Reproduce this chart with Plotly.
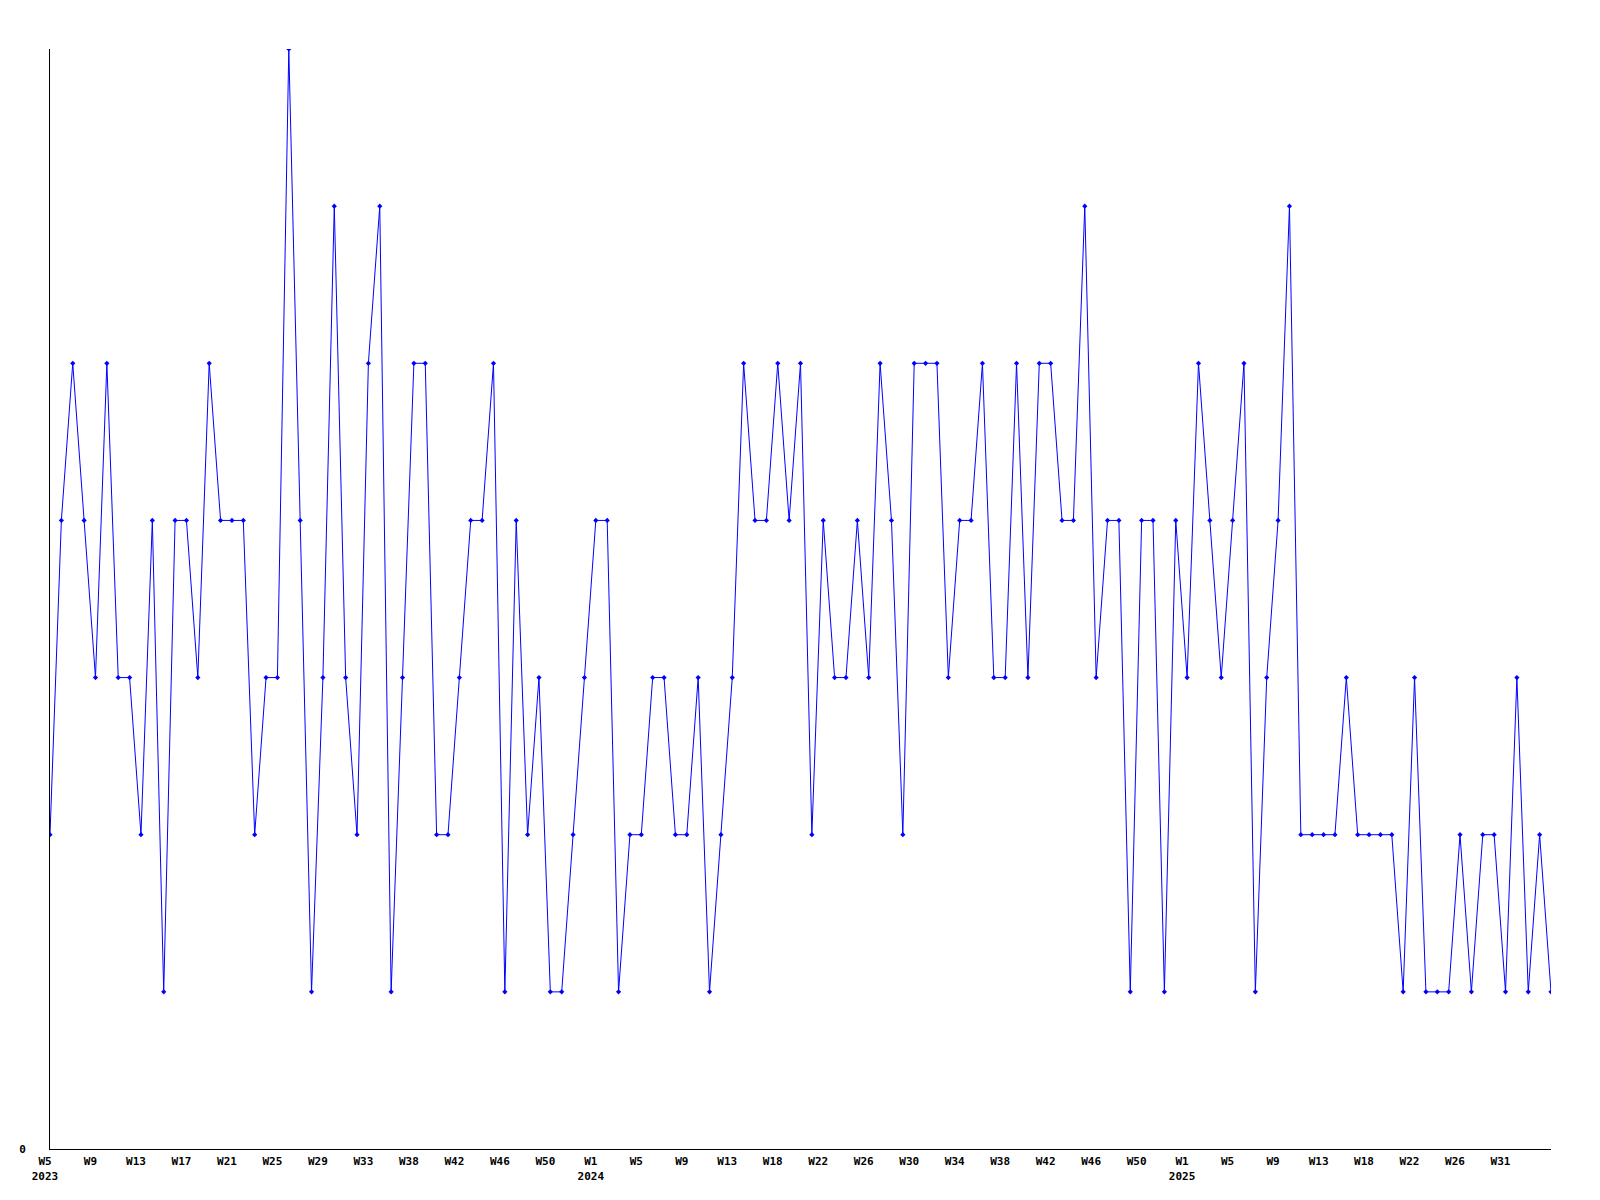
import plotly.graph_objects as go

# Weekly values, 2023-W05 .. 2025-W33
values = [
    2, 4, 5, 4, 3, 5, 3, 3, 2, 4, 1, 4, 4, 3, 5, 4, 4, 4, 2, 3, 3, 7, 4, 1, 3, 6, 3, 2, 5, 6, 1, 3, 5, 5, 2, 2,
    3, 4, 4, 5, 1, 4, 2, 3, 1, 1, 2, 3, 4, 4, 1, 2, 2, 3, 3, 2, 2, 3, 1, 2, 3, 5, 4, 4, 5, 4, 5, 2, 4,
    3, 3, 4, 3, 5, 4, 2, 5, 5, 5, 3, 4, 4, 5, 3, 3, 5, 3, 5, 5, 4, 4, 6, 3, 4, 4, 1, 4, 4, 1, 4, 3, 5, 4,
    3, 4, 5, 1, 3, 4, 6, 2, 2, 2, 2, 3, 2, 2, 2, 2, 1, 3, 1, 1, 1, 2, 1, 2, 2, 1, 3, 1, 2, 1,
]

# Week categories
years = [2023, 2024, 2025]
first_week = [5, 1, 1]
last_week = [52, 52, 33]
weeks = []
for yr, a, b in zip(years, first_week, last_week):
    for w in range(a, b + 1):
        weeks.append(f"{yr}-W{w:02d}")

tick_weeks = ["W5", "W9", "W13", "W17", "W21", "W25", "W29", "W33", "W38", "W42", "W46", "W50",
              "W1", "W5", "W9", "W13", "W18", "W22", "W26", "W30", "W34", "W38", "W42", "W46", "W50",
              "W1", "W5", "W9", "W13", "W18", "W22", "W26", "W31"]
tick_years = {0: "2023", 12: "2024", 25: "2025"}
tick_step = 4

tickvals = [weeks[i * tick_step] for i in range(len(tick_weeks))]
ticktext = [tw + ("<br>" + tick_years[i] if i in tick_years else "") for i, tw in enumerate(tick_weeks)]

fig = go.Figure()
fig.add_trace(go.Scatter(
    x=weeks, y=values, mode="lines+markers",
    line=dict(color="#0000ff", width=1),
    marker=dict(symbol="diamond", size=4, color="#0000ff"),
    hoverinfo="x+y",
))

font = dict(family="DejaVu Sans Mono", size=11, color="#000000", weight="bold")

fig.update_layout(
    width=1592, height=1192,
    margin=dict(l=42, r=49, t=41, b=51),
    paper_bgcolor="white", plot_bgcolor="white",
    showlegend=False,
    font=font,
)
fig.update_xaxes(
    type="category", range=[0, len(weeks) - 1],
    tickmode="array", tickvals=tickvals, ticktext=ticktext,
    showgrid=False, zeroline=False, showline=True, linecolor="black", linewidth=1,
    ticks="", tickfont=font, tickangle=0, ticklabelshift=-5, ticklabelstandoff=2,
)
fig.update_yaxes(
    range=[0, 7], tickmode="array", tickvals=[0], ticktext=["0"],
    showgrid=False, zeroline=False, showline=True, linecolor="black", linewidth=1,
    ticks="", tickfont=font, ticklabelstandoff=21,
)

fig.write_html("out.html")
